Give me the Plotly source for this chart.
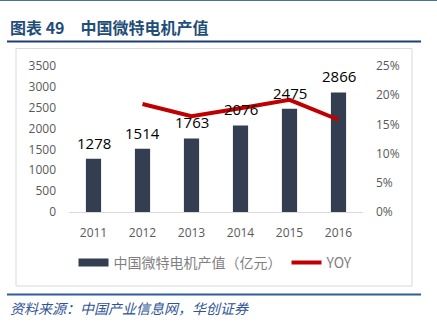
import plotly.graph_objects as go

years = ["2011", "2012", "2013", "2014", "2015", "2016"]
output_value = [1278, 1514, 1763, 2076, 2475, 2866]
yoy_years = ["2012", "2013", "2014", "2015", "2016"]
yoy = [0.185, 0.164, 0.1775, 0.192, 0.158]
left_ticks = [0, 500, 1000, 1500, 2000, 2500, 3000, 3500]
right_ticks = [0, 0.05, 0.10, 0.15, 0.20, 0.25]

W, H = 437, 327
L, R, T, B = 69, 363, 66, 212
pw, ph = R - L, B - T

def px(x):
    return (x - L) / pw

def py(y):
    return (B - y) / ph

tick_font = dict(family="Open Sans, Liberation Sans, sans-serif", size=12, color="#595959")
cjk = "Noto Sans CJK SC"
bar_color = "#333F50"

fig = go.Figure()
fig.add_trace(go.Bar(
    x=years, y=output_value, name="中国微特电机产值（亿元）",
    marker=dict(color=bar_color, line=dict(width=0)),
    yaxis="y", showlegend=False,
))
# legend-only entry drawn as a wide swatch like the reference
fig.add_trace(go.Scatter(
    x=[None], y=[None], name="中国微特电机产值（亿元）", mode="lines",
    line=dict(color=bar_color, width=8), yaxis="y",
))
fig.add_trace(go.Scatter(
    x=yoy_years, y=yoy, name="YOY", mode="lines",
    line=dict(color="#C00000", width=4),
    yaxis="y2",
))

annotations = []
for i, v in enumerate(output_value):
    annotations.append(dict(
        x=i, y=v, xref="x", yref="y", text=str(v), showarrow=False,
        yanchor="middle", yshift=16,
        font=dict(family="Open Sans, Liberation Sans, sans-serif", size=15, color="#000000"),
    ))
annotations.append(dict(
    x=px(8), y=py(27), xref="paper", yref="paper", xanchor="left", yanchor="middle",
    text="<b>图表 49　中国微特电机产值</b>", showarrow=False,
    font=dict(family=cjk, size=16, color="#1F4E79"),
))
annotations.append(dict(
    x=px(8), y=py(308), xref="paper", yref="paper", xanchor="left", yanchor="middle",
    text="<i>资料来源：中国产业信息网，华创证券</i>", showarrow=False,
    font=dict(family=cjk, size=14, color="#2F5597"),
))

shapes = [
    dict(type="line", xref="paper", yref="paper", x0=px(0), x1=px(437), y0=py(0.5), y1=py(0.5),
         line=dict(color="#4A6FA5", width=1)),
    dict(type="line", xref="paper", yref="paper", x0=px(7), x1=px(421), y0=py(41.5), y1=py(41.5),
         line=dict(color="#1F3F73", width=2)),
    dict(type="rect", xref="paper", yref="paper", x0=px(16), x1=px(412), y0=py(286), y1=py(48.5),
         line=dict(color="#D9D9D9", width=1), layer="below"),
    dict(type="line", xref="paper", yref="paper", x0=px(7), x1=px(421), y0=py(294.5), y1=py(294.5),
         line=dict(color="#2E5F99", width=2)),
]

fig.update_layout(
    width=W, height=H, autosize=False,
    margin=dict(l=L, r=W - R, t=T, b=H - B, pad=0),
    paper_bgcolor="white", plot_bgcolor="white",
    bargap=0.69,
    showlegend=True,
    legend=dict(orientation="h", x=0.5, xanchor="center", y=py(263), yanchor="middle",
                font=dict(family=cjk, size=14, color="#7F7F7F"),
                itemwidth=30, tracegroupgap=0,
                bgcolor="rgba(0,0,0,0)"),
    xaxis=dict(type="category", range=[-0.5, len(years) - 0.5], showgrid=False, showline=True,
               linecolor="#D9D9D9", linewidth=1, ticks="", tickfont=tick_font,
               ticklabelstandoff=10),
    yaxis=dict(range=[0, 3500], tickvals=left_ticks, ticktext=[str(v) for v in left_ticks],
               showgrid=False, zeroline=False, showline=False, ticks="", tickfont=tick_font,
               ticklabelstandoff=12),
    yaxis2=dict(range=[0, 0.25], tickvals=right_ticks,
                ticktext=[f"{int(round(v*100))}%" for v in right_ticks],
                overlaying="y", side="right", showgrid=False, zeroline=False, showline=False,
                ticks="", tickfont=tick_font, ticklabelstandoff=12),
    annotations=annotations, shapes=shapes,
)

fig.write_html("out.html")
